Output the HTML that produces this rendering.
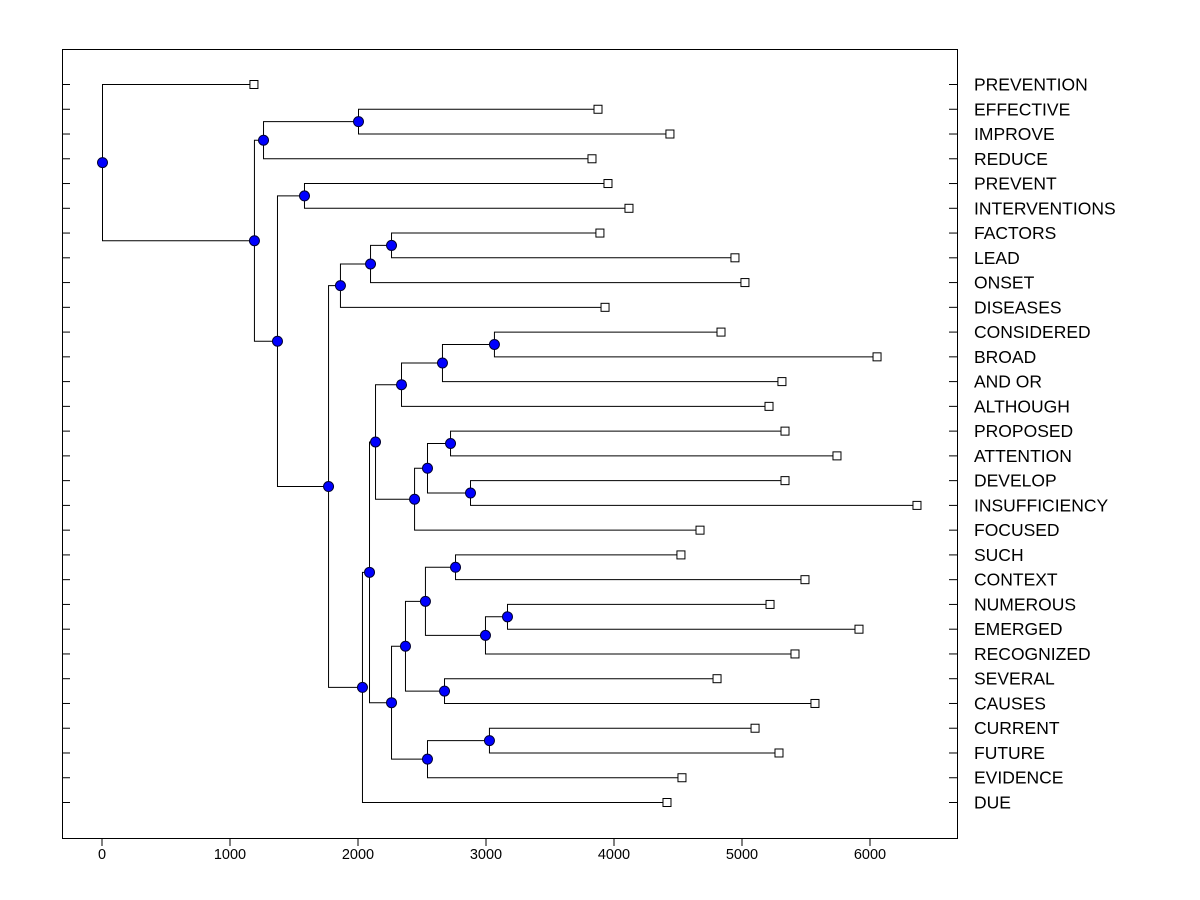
<!DOCTYPE html>
<html><head><meta charset="utf-8"><style>
body{margin:0;background:#fff;}
svg{display:block;font-family:"Liberation Sans",Arial,sans-serif;}
</style></head><body>
<svg id="chart" width="1200" height="900" xmlns="http://www.w3.org/2000/svg">
<rect x="62.5" y="49.5" width="895" height="789" fill="#fff" stroke="#000" stroke-width="1"/>
<g id="ticks"></g><g id="links"></g><g id="marks"></g><g id="labels"></g>
</svg>
<script>
const leafNames = ["PREVENTION","EFFECTIVE","IMPROVE","REDUCE","PREVENT","INTERVENTIONS","FACTORS","LEAD","ONSET","DISEASES","CONSIDERED","BROAD","AND OR","ALTHOUGH","PROPOSED","ATTENTION","DEVELOP","INSUFFICIENCY","FOCUSED","SUCH","CONTEXT","NUMEROUS","EMERGED","RECOGNIZED","SEVERAL","CAUSES","CURRENT","FUTURE","EVIDENCE","DUE"];
const leafValues = [1187,3875,4437,3828,3953,4117,3890,4945,5023,3930,4836,6055,5312,5211,5336,5742,5336,6367,4672,4523,5492,5219,5914,5414,4805,5570,5102,5289,4531,4414];
const mergeHeights = [0,1187,1258,2000,1367,1578,1766,1859,2094,2258,2031,2086,2133,2336,2656,3062,2438,2539,2719,2875,2258,2367,2523,2758,2992,3164,2672,2539,3023];
const mergeChildren = [
 ["L0","N1"],["N2","N4"],["N3","L3"],["L1","L2"],["N5","N6"],["L4","L5"],["N7","N10"],["N8","L9"],["N9","L8"],["L6","L7"],
 ["N11","L29"],["N12","N20"],["N13","N16"],["N14","L13"],["N15","L12"],["L10","L11"],["N17","L18"],["N18","N19"],["L14","L15"],["L16","L17"],
 ["N21","N27"],["N22","N26"],["N23","N24"],["L19","L20"],["N25","L23"],["L21","L22"],["L24","L25"],["N28","L28"],["L26","L27"]
];
const xTicks = [0,1000,2000,3000,4000,5000,6000];

const NS="http://www.w3.org/2000/svg";
const xs = v => 102 + v*0.128;
const ys = i => 84 + i*(802-84)/29;
function mk(tag, attrs, parent){const e=document.createElementNS(NS,tag);for(const k in attrs)e.setAttribute(k,attrs[k]);document.getElementById(parent).appendChild(e);return e;}

xTicks.forEach(t=>{
  const l=mk("line",{x1:xs(t),x2:xs(t),y1:838,y2:846,stroke:"#000"},"ticks");
  
  
  const tx=mk("text",{x:xs(t),y:859,"font-size":14.5,"text-anchor":"middle"},"ticks");
  tx.textContent=t;
  
  
});
leafNames.forEach((n,i)=>{
  const l=mk("line",{x1:62,x2:70,y1:ys(i)+0.5,y2:ys(i)+0.5,stroke:"#000"},"ticks");
  
  
  const r=mk("line",{x1:949,x2:957,y1:ys(i)+0.5,y2:ys(i)+0.5,stroke:"#000"},"ticks");
  
  
  const t=mk("text",{x:974,y:ys(i)+6.5,"font-size":17.5},"labels");
  t.textContent=n;
  
  
});

function pos(id){
  if(id[0]==="L"){const i=+id.slice(1);return {x:xs(leafValues[i]),y:ys(i)};}
  const j=+id.slice(1);const a=pos(mergeChildren[j][0]),b=pos(mergeChildren[j][1]);
  return {x:xs(mergeHeights[j]),y:(a.y+b.y)/2};
}
mergeChildren.forEach((ch,j)=>{
  const p=pos("N"+j),a=pos(ch[0]),b=pos(ch[1]);
  const path=mk("path",{d:`M${a.x},${a.y+0.5}H${p.x+0.5}V${b.y+0.5}H${b.x}`,fill:"none",stroke:"#000","stroke-width":1},"links");
  
  
});
leafValues.forEach((v,i)=>{
  const r=mk("rect",{x:xs(v)-4,y:ys(i)-3.5,width:8,height:8,fill:"#fff",stroke:"#000"},"marks");
  
  
});
mergeHeights.forEach((h,j)=>{
  const p=pos("N"+j);
  const c=mk("circle",{cx:p.x+0.5,cy:p.y+0.5,r:5,fill:"#0000ff",stroke:"#000033","stroke-width":1},"marks");
  
  
});
</script>
</body></html>
